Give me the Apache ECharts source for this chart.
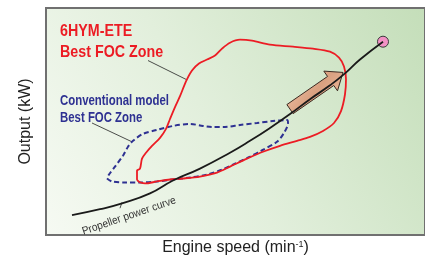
<!DOCTYPE html>
<html>
<head>
<meta charset="utf-8">
<script src="https://cdn.jsdelivr.net/npm/echarts@6/dist/echarts.min.js"></script>
<style>
	html, body { margin: 0; padding: 0; background: #fff; }
	#chart { width: 425px; height: 261px; }
</style>
</head>
<body>
<div id="chart"></div>
<script>
// curves, in plot units (x: engine speed, y: output)
const propellerCurve = [[26,20],[54,26],[76,32],[104,42],[127,55],[154,67],[184,83],[204,95],[224,108],[244,122],[264,137],[284,151],[299,163],[314,177],[337,195]];
const hymZone = [[94,53],[91,56],[91,65],[94,67],[96,77],[100,83],[106,90],[114,98],[120,107],[124,117],[129,129],[134,140],[140,155],[146,166],[153,173],[161,177],[169,181],[176,188],[184,194],[194,197],[206,196],[224,192],[247,190],[267,188],[284,185],[293,179],[298,170],[300,157],[299,142],[295,125],[288,113],[277,105],[264,99],[251,95],[234,90],[217,84],[201,77],[184,69],[171,63],[154,59],[137,57],[124,56],[111,54],[99,52],[94,53]];
const conventionalZone = [[61,57],[66,54],[79,53],[94,53],[111,54],[127,56],[144,58],[161,61],[176,66],[189,72],[204,79],[217,86],[231,94],[238,103],[242,113],[241,116],[227,115],[211,113],[194,111],[179,109],[166,109],[157,110],[144,112],[127,110],[111,106],[97,102],[87,95],[82,89],[77,80],[69,69],[63,61],[61,57]];
const ratedPoint = [[337,195]];
const arrow = [[244,127,297,164]];
const leaders = [
	[[102,176],[140,157]],
	[[46,113],[86,94]],
	[[76,33],[74,27]]
];

let myChart = echarts.init(document.getElementById('chart'));

const sans = "'Liberation Sans',Arial,sans-serif";

let option = {
	animation: false,
	grid: {
		left: 46, top: 8, right: -3, bottom: 24,
		show: true,
		borderColor: '#707070',
		borderWidth: 2,
		backgroundColor: new echarts.graphic.LinearGradient(0, 1, 1, 0, [
			{offset: 0, color: '#f6faf3'},
			{offset: 0.45, color: '#e2efdc'},
			{offset: 1, color: '#c4deb9'}
		])
	},
	xAxis: {
		type: 'value', min: 0, max: 379,
		axisLine: {show: false}, axisTick: {show: false}, axisLabel: {show: false}, splitLine: {show: false},
		name: 'Engine speed (min{sup|-1})',
		nameLocation: 'middle',
		nameGap: 5,
		nameTextStyle: {
			color: '#222', fontSize: 16, fontFamily: sans,
			verticalAlign: 'top',
			rich: {sup: {fontSize: 9, verticalAlign: 'top', color: '#222', padding: [0, 0, 6, 0]}}
		}
	},
	yAxis: {
		type: 'value', min: 0, max: 229,
		axisLine: {show: false}, axisTick: {show: false}, axisLabel: {show: false}, splitLine: {show: false},
		name: 'Output (kW)',
		nameLocation: 'middle',
		nameGap: 12,
		nameTextStyle: {color: '#222', fontSize: 16, fontFamily: sans}
	},
	// labels: condensed look by squeezing the text horizontally
	graphic: [
		{type: 'text', x: 60, y: 42, scaleX: 0.84, style: {text: '6HYM-ETE\nBest FOC Zone', fill: '#ec1c24', font: 'bold 17px ' + sans, lineHeight: 20.5, verticalAlign: 'middle'}},
		{type: 'text', x: 60, y: 109, scaleX: 0.76, style: {text: 'Conventional model\nBest FOC Zone', fill: '#2e3192', font: 'bold 15px ' + sans, lineHeight: 17, verticalAlign: 'middle'}},
		{type: 'text', x: 129, y: 216, rotation: 0.33, scaleX: 0.92, style: {text: 'Propeller power curve', fill: '#333', font: '11px ' + sans, align: 'center', verticalAlign: 'middle'}}
	],
	series: [
		{
			type: 'line', data: conventionalZone, smooth: 0.3, symbol: 'none',
			lineStyle: {color: '#2e3192', width: 2, type: [5, 3]}
		},
		{
			type: 'line', data: hymZone, smooth: 0.3, symbol: 'none',
			lineStyle: {color: '#ec1c24', width: 1.8}
		},
		{
			type: 'line', data: propellerCurve, smooth: true, symbol: 'none',
			lineStyle: {color: '#1a1a1a', width: 1.8}
		},
		{
			type: 'lines', coordinateSystem: 'cartesian2d', polyline: false, silent: true,
			data: leaders.map(c => ({coords: c})),
			lineStyle: {color: '#222', width: 0.8, opacity: 1}
		},
		{
			type: 'custom', data: arrow,
			renderItem: function (params, api) {
				let a = api.coord([api.value(0), api.value(1)]);
				let b = api.coord([api.value(2), api.value(3)]);
				let dx = b[0] - a[0], dy = b[1] - a[1];
				let len = Math.sqrt(dx * dx + dy * dy);
				let ux = dx / len, uy = dy / len, nx = -uy, ny = ux;
				let sw = 5.5, hw = 12, hl = 15;
				let m = [b[0] - ux * hl, b[1] - uy * hl];
				return {
					type: 'polygon',
					shape: {points: [
						[a[0] + nx * sw, a[1] + ny * sw],
						[m[0] + nx * sw, m[1] + ny * sw],
						[m[0] + nx * hw, m[1] + ny * hw],
						b,
						[m[0] - nx * hw, m[1] - ny * hw],
						[m[0] - nx * sw, m[1] - ny * sw],
						[a[0] - nx * sw, a[1] - ny * sw]
					]},
					style: {
						fill: new echarts.graphic.LinearGradient(0, 0, 1, 1, [
							{offset: 0, color: '#f6cbb0'},
							{offset: 0.5, color: '#d9a080'},
							{offset: 1, color: '#f2c0a2'}
						]),
						stroke: '#3b2a22', lineWidth: 1
					}
				};
			}
		},
		{
			type: 'scatter', data: ratedPoint, symbolSize: 11,
			itemStyle: {color: '#f291c4', borderColor: '#3a3a3a', borderWidth: 1, opacity: 1}
		}
	]
};

myChart.setOption(option);
</script>
</body>
</html>
